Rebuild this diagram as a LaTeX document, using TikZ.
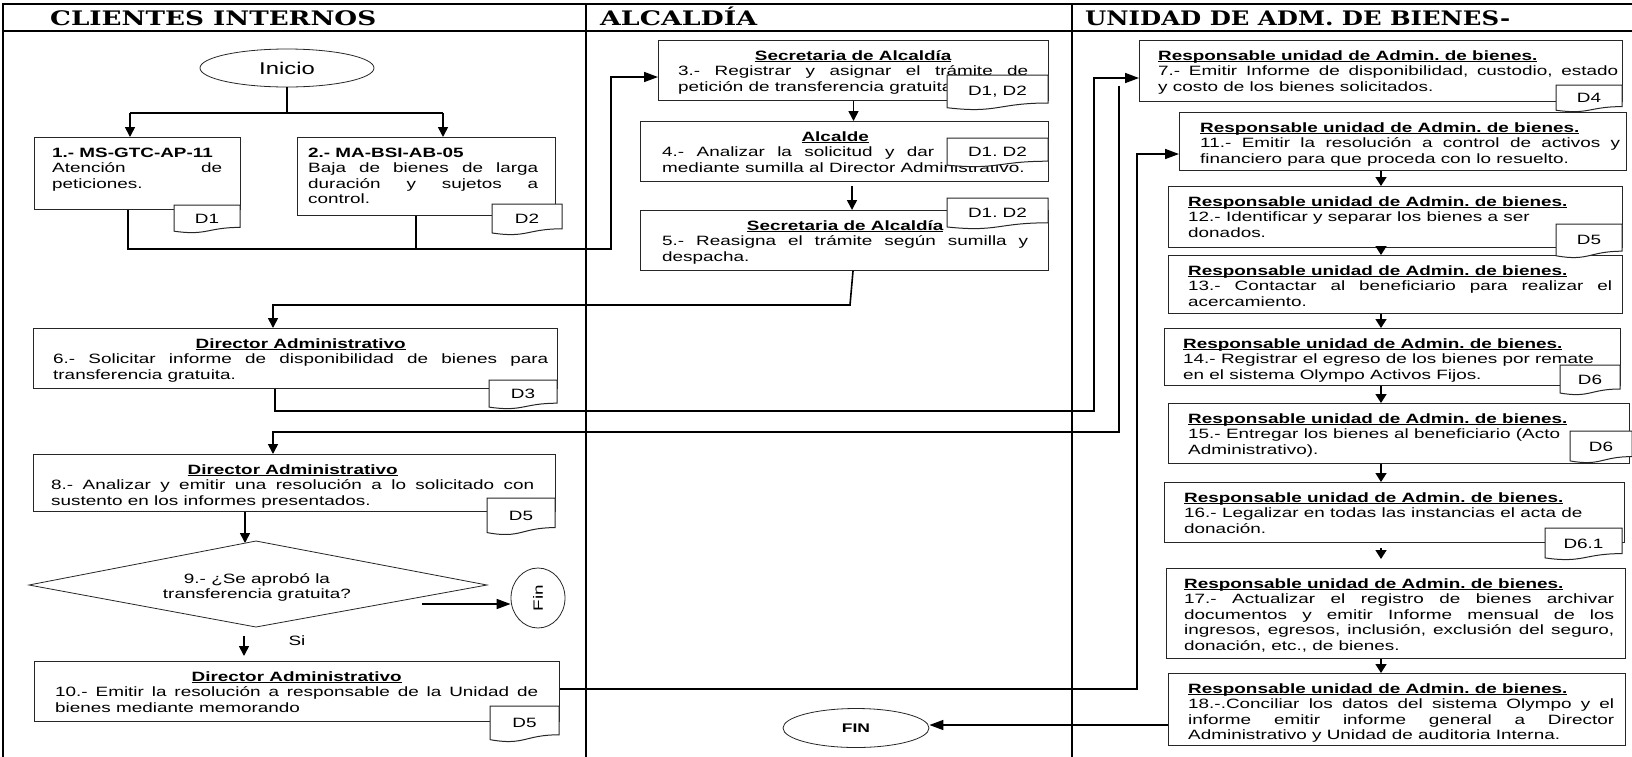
\documentclass[tikz,border=0pt]{standalone}
\usepackage{fontspec}
\usepackage{graphicx}
\setmainfont{Liberation Sans}[FakeStretch=1.4]
\newfontfamily\hdrfont{DejaVu Serif}
\usetikzlibrary{arrows.meta,shapes.geometric,calc}

\newcommand\bodyfont{\fontsize{13.5pt}{15.5pt}\selectfont\frenchspacing}
\newcommand\jl[1]{\makebox[\linewidth][s]{#1}}
\newsavebox\ubox
\newcommand\ttl[1]{\sbox\ubox{\textbf{#1}}\rlap{\usebox\ubox}\rule[-1.8pt]{\wd\ubox}{0.8pt}}
\newcommand\ctl[1]{\makebox[\linewidth]{\ttl{#1}}}
\newsavebox\fitbox
\newlength\fitlen
\newcommand\fitw[2]{\sbox\fitbox{#2}\setlength\fitlen{\wd\fitbox}\pgfmathsetmacro\fitsc{#1/\fitlen}\scalebox{\fitsc}[1]{\usebox\fitbox}}
\newcommand\hdrtxt[1]{\hdrfont\bfseries\fontsize{20pt}{22pt}\selectfont #1}

% process box: name, x1, y1, x2, y2, text-left, text-right, content
\newcommand\pbox[8]{%
  \pgfmathsetmacro\pbW{#4-#2}\pgfmathsetmacro\pbH{#5-#3}\pgfmathsetmacro\pbT{#7-#6}%
  \node[procbox, minimum width=\pbW pt, minimum height=\pbH pt, anchor=north west] (#1) at (#2,#3) {};%
  \node[boxtext, text width=\pbT pt, anchor=north west] (#1t) at (#6,#3+10) {\rule{0pt}{10pt}#8};%
}
% document tag: name, x1, y1, x2, y2, text
\newcommand\doctag[6]{%
  \pgfmathsetmacro\tgh{#5-#3}\pgfmathsetmacro\tgx{(#2+#4)/2}%
  \filldraw[tagline] (#2,#3) -- (#4,#3) -- (#4,#3+0.80*\tgh)
     .. controls (\tgx,#3+0.80*\tgh) and (\tgx,#3+1.107*\tgh) .. (#2,#3+0.934*\tgh) -- cycle;%
  \node[tagtext] (#1) at (\tgx,#3+0.48*\tgh) {#6};%
}

\begin{document}
\begin{tikzpicture}[x=1pt,y=-1pt,
  lane/.style={line width=2pt, line cap=rect},
  ln/.style={line width=1.6pt, line join=miter},
  arrd/.style={ln, -{Triangle[length=10pt,width=10pt]}},
  arrh/.style={ln, -{Triangle[length=14pt,width=10pt]}},
  arrs/.style={ln, -{Triangle[length=9pt,width=11pt]}},
  procbox/.style={draw=black!85, line width=1pt, fill=white, inner sep=0pt},
  boxtext/.style={inner sep=0pt, align=flush left, font=\bodyfont},
  tagline/.style={draw=black!85, line width=1pt, fill=white},
  tagtext/.style={inner sep=0pt, font=\bodyfont},
  hdr/.style={anchor=base west, inner sep=0pt},
  txt/.style={inner sep=0pt, font=\bodyfont},
  term/.style={draw=black!85, line width=0.8pt, ellipse, inner sep=0pt, fill=white}
]
\useasboundingbox (0,0) rectangle (1632,756);

% swimlanes
\draw[lane] (3,4) -- (1632,4);
\draw[lane] (3,31) -- (1632,31);
\draw[lane] (3,4) -- (3,756);
\draw[lane] (586,4) -- (586,756);
\draw[lane] (1072,4) -- (1072,756);

\node[hdr] (h1) at (50,25.5) {\fitw{326}{\hdrtxt{CLIENTES INTERNOS}}};
\node[hdr] (h2) at (600,25.5) {\fitw{157}{\hdrtxt{ALCALDÍA}}};
\node[hdr] (h3) at (1085,25.5) {\fitw{425}{\hdrtxt{UNIDAD DE ADM. DE BIENES-}}};

% terminals
\node[term, minimum width=174pt, minimum height=38pt] (ini) at (287,68) {\fontsize{17pt}{20pt}\selectfont Inicio};
\node[term, minimum width=54pt, minimum height=60pt] (fin1) at (538,598) {\rotatebox{90}{\bodyfont Fin}};
\node[term, minimum width=146pt, minimum height=39pt] (fin2) at (856,728) {\fontsize{12.5pt}{14pt}\selectfont\bfseries FIN};

% column 1 boxes
\pbox{b1}{34}{137}{240}{209}{52}{222}{\textbf{1.- MS-GTC-AP-11}\\\jl{Atención de}\\peticiones.}
\pbox{b2}{297}{137}{555}{215}{308}{538}{\textbf{2.- MA-BSI-AB-05}\\\jl{Baja de bienes de larga}\\\jl{duración y sujetos a}\\control.}
\pbox{b6}{33}{328}{557}{388}{53}{548}{\ctl{Director Administrativo}\\\jl{6.- Solicitar informe de disponibilidad de bienes para}\\transferencia gratuita.}
\pbox{b8}{33}{454}{555}{511}{51}{534}{\ctl{Director Administrativo}\\\jl{8.- Analizar y emitir una resolución a lo solicitado con}\\sustento en los informes presentados.}
\pbox{b10}{34}{661}{559}{721}{55}{538}{\ctl{Director Administrativo}\\\jl{10.- Emitir la resolución a responsable de la Unidad de}\\bienes mediante memorando}

% decision
\coordinate (dL) at (29,585);
\coordinate (dT) at (256,541);
\coordinate (dR) at (487,585);
\coordinate (dB) at (256,627);
\draw[draw=black!85, line width=0.8pt, fill=white] (dL) -- (dT) -- (dR) -- (dB) -- cycle;
\node[txt, align=center, anchor=north] (dec) at (257,573) {\rule{0pt}{10pt}9.- ¿Se aprobó la\\transferencia gratuita?};
\node[txt] (si) at (297,641) {Si};

% column 2 boxes
\pbox{b3}{658}{40}{1048}{100}{678}{1028}{\ctl{Secretaria de Alcaldía}\\\jl{3.- Registrar y asignar el trámite de}\\petición de transferencia gratuita.}
\pbox{b4}{640}{121}{1048}{181}{662}{1028}{\makebox[346pt]{\ttl{Alcalde}}\\\makebox[272pt][s]{4.- Analizar la solicitud y dar}\\mediante sumilla al Director Administrativo.}
\pbox{b5}{640}{210}{1048}{270}{662}{1028}{\ctl{Secretaria de Alcaldía}\\\jl{5.- Reasigna el trámite según sumilla y}\\despacha.}

% column 3 boxes
\pbox{b7}{1139}{40}{1622}{101}{1158}{1618}{\ttl{Responsable unidad de Admin. de bienes.}\\\jl{7.- Emitir Informe de disponibilidad, custodio, estado}\\y costo de los bienes solicitados.}
\pbox{b11}{1179}{112}{1626}{170}{1200}{1620}{\ttl{Responsable unidad de Admin. de bienes.}\\\jl{11.- Emitir la resolución a control de activos y}\\financiero para que proceda con lo resuelto.}
\pbox{b12}{1168}{186}{1622}{247}{1188}{1612}{\ttl{Responsable unidad de Admin. de bienes.}\\12.- Identificar y separar los bienes a ser\\donados.}
\pbox{b13}{1168}{255}{1622}{313}{1188}{1612}{\ttl{Responsable unidad de Admin. de bienes.}\\\jl{13.- Contactar al beneficiario para realizar el}\\acercamiento.}
\pbox{b14}{1164}{328}{1620}{385}{1183}{1612}{\ttl{Responsable unidad de Admin. de bienes.}\\14.- Registrar el egreso de los bienes por remate\\en el sistema Olympo Activos Fijos.}
\pbox{b15}{1168}{403}{1629}{463}{1188}{1612}{\ttl{Responsable unidad de Admin. de bienes.}\\15.- Entregar los bienes al beneficiario (Acto\\Administrativo).}
\pbox{b16}{1164}{482}{1624}{542}{1184}{1612}{\ttl{Responsable unidad de Admin. de bienes.}\\16.- Legalizar en todas las instancias el acta de\\donación.}
\pbox{b17}{1166}{568}{1625}{658}{1184}{1614}{\ttl{Responsable unidad de Admin. de bienes.}\\\jl{17.- Actualizar el registro de bienes archivar}\\\jl{documentos y emitir Informe mensual de los}\\\jl{ingresos, egresos, inclusión, exclusión del seguro,}\\donación, etc., de bienes.}
\pbox{b18}{1168}{673}{1625}{745}{1188}{1614}{\ttl{Responsable unidad de Admin. de bienes.}\\\jl{18.-.Conciliar los datos del sistema Olympo y el}\\\jl{informe emitir informe general a Director}\\Administrativo y Unidad de auditoria Interna.}

% document tags
\doctag{t1}{174}{205}{240}{233}{D1}
\doctag{t2}{492}{204}{562}{235}{D2}
\doctag{t3}{947}{75}{1048}{110}{D1, D2}
\doctag{t4}{947}{138}{1048}{167}{D1. D2}
\doctag{t5}{947}{198}{1048}{229}{D1. D2}
\doctag{t6}{489}{380}{557}{409}{D3}
\doctag{t8}{487}{498}{555}{535}{D5}
\doctag{t10}{490}{706}{559}{742}{D5}
\doctag{t7}{1556}{85}{1622}{112}{D4}
\doctag{t12}{1556}{224}{1622}{258}{D5}
\doctag{t14}{1560}{365}{1620}{395}{D6}
\doctag{t15}{1570}{431}{1632}{463}{D6}
\doctag{t16}{1545}{528}{1622}{560}{D6.1}

% connectors column 1 top
\coordinate (s1) at (130,113);
\coordinate (s2) at (443,113);
\draw[ln] (ini.south) -- (ini.south |- s1);
\draw[ln] (s1) -- (s2);
\draw[arrd] (s1) -- (s1 |- b1.north);
\draw[arrd] (s2) -- (s2 |- b2.north);

\coordinate (j1) at (128,249);
\coordinate (j2) at (416,249);
\coordinate (j3) at (611,249);
\coordinate (j4) at (611,77);
\draw[ln] (j2 |- b2.south) -- (j2);
\draw[arrh] (j1 |- b1.south) -- (j1) -- (j3) -- (j4) -- (j4 -| b3.west);

% column 2
\draw[arrd] (b3.south) -- (b3.south |- b4.north);
\coordinate (a45) at (852,186);
\draw[arrd] (a45) -- (a45 |- b5.north);
\coordinate (k0) at (853,270);
\coordinate (k1) at (850,305);
\coordinate (k2) at (273,305);
\draw[arrd] (k0 |- b5.south) -- (k1) -- (k2) -- (k2 |- b6.north);

% 6 -> 7
\coordinate (m1) at (275,411);
\coordinate (m2) at (1094,411);
\coordinate (m3) at (1094,78);
\draw[arrh] (m1 |- b6.south) -- (m1) -- (m2) -- (m3) -- (m3 -| b7.west);

% 7 -> 8
\coordinate (n0) at (1119,86);
\coordinate (n1) at (1119,432);
\coordinate (n2) at (273,432);
\draw[arrd] (n0) -- (n1) -- (n2) -- (n2 |- b8.north);

% 8 -> decision -> fin / 10
\coordinate (dA) at (245,543);
\draw[arrd] (dA |- b8.south) -- (dA);
\coordinate (q1) at (422,604);
\draw[arrh] (q1) -- (q1 -| fin1.west);
\coordinate (r1) at (244,636);
\coordinate (r2) at (244,656);
\draw[arrd] (r1) -- (r2);

% 10 -> 11
\coordinate (u1) at (1137,689);
\coordinate (u2) at (1137,154);
\draw[arrh] (b10.east |- u1) -- (u1) -- (u2) -- (u2 -| b11.west);

% column 3 chain
\coordinate (vx) at (1381,0);
\foreach \a/\b in {b11/b12,b12/b13,b13/b14,b14/b15,b15/b16,b17/b18}
  \draw[arrs] (vx |- \a.south) -- (vx |- \b.north);
\coordinate (v17) at (1381,559);
\draw[arrs] ([yshift=-5pt]vx |- b16.south) -- (v17);

% 18 -> FIN
\coordinate (w1) at (1168,725);
\draw[arrh] (b18.west |- w1) -- (w1 -| fin2.east);
\end{tikzpicture}
\end{document}
